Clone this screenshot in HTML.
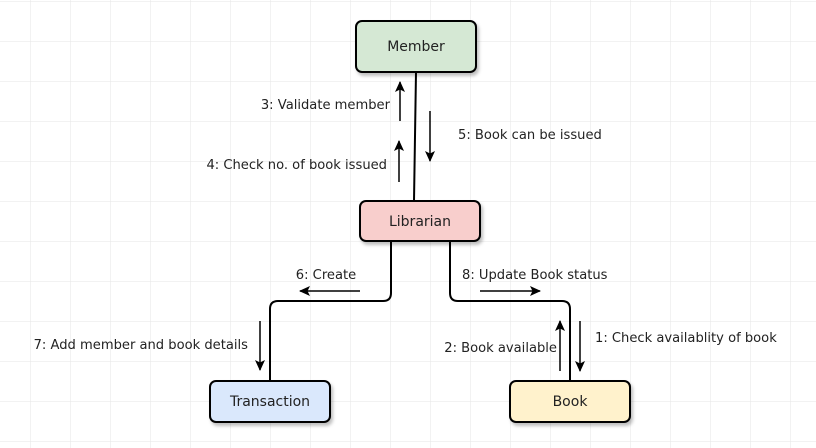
<!DOCTYPE html>
<html><head><style>
body{margin:0;background:#fff}
svg{display:block}
text{font-family:"DejaVu Sans","Liberation Sans",sans-serif;font-size:13.1px;fill:#222}
.b{font-size:14px}
</style></head><body>
<svg width="816" height="448" viewBox="0 0 816 448" xmlns="http://www.w3.org/2000/svg">
<defs>
<pattern id="g" x="30" y="1" width="40" height="40" patternUnits="userSpaceOnUse">
<path d="M0 0H40M0 0V40" stroke="#e6e6e6" stroke-width="1" fill="none"/>
</pattern>
<marker id="a" markerWidth="12" markerHeight="12" refX="10" refY="6" orient="auto" markerUnits="userSpaceOnUse">
<path d="M0 1L11 6L0 11L2.5 6Z" fill="#000"/>
</marker>
<filter id="s" x="-10%" y="-10%" width="130%" height="140%"><feDropShadow dx="2" dy="3" stdDeviation="1.5" flood-color="#000" flood-opacity="0.25"/></filter>
</defs>
<rect width="816" height="448" fill="url(#g)"/>
<g fill="none" stroke="#000" stroke-width="2">
<path d="M416 72L414 201"/>
<path d="M391 241V293Q391 301 383 301H278Q270 301 270 309V381"/>
<path d="M450 241V293Q450 301 458 301H562Q570 301 570 309V381"/>
</g>
<g stroke="#000" stroke-width="1.5" marker-end="url(#a)">
<line x1="400" y1="121" x2="400" y2="82"/>
<line x1="399" y1="182" x2="399" y2="141"/>
<line x1="430" y1="111" x2="430" y2="161"/>
<line x1="360" y1="291" x2="300" y2="291"/>
<line x1="480" y1="291" x2="540" y2="291"/>
<line x1="260" y1="321" x2="260" y2="370"/>
<line x1="560" y1="371" x2="560" y2="321"/>
<line x1="580" y1="321" x2="580" y2="371"/>
</g>
<g stroke="#000" stroke-width="2" filter="url(#s)">
<rect x="356" y="21" width="120" height="51" rx="6" fill="#d5e8d4"/>
<rect x="360" y="201" width="120" height="40" rx="6" fill="#f8cecc"/>
<rect x="210" y="381" width="120" height="41" rx="6" fill="#dae8fc"/>
<rect x="510" y="381" width="120" height="41" rx="6" fill="#fff2cc"/>
</g>
<g text-anchor="middle">
<text class="b" x="416" y="51">Member</text>
<text class="b" x="420" y="226">Librarian</text>
<text class="b" x="270" y="406">Transaction</text>
<text class="b" x="570" y="406">Book</text>
</g>
<text x="390" y="109" text-anchor="end">3: Validate member</text>
<text x="387" y="169" text-anchor="end">4: Check no. of book issued</text>
<text x="458" y="139">5: Book can be issued</text>
<text x="326" y="279" text-anchor="middle">6: Create</text>
<text x="462" y="279">8: Update Book status</text>
<text x="248" y="349" text-anchor="end">7: Add member and book details</text>
<text x="557" y="352" text-anchor="end">2: Book available</text>
<text x="595" y="342">1: Check availablity of book</text>
</svg>
</body></html>
